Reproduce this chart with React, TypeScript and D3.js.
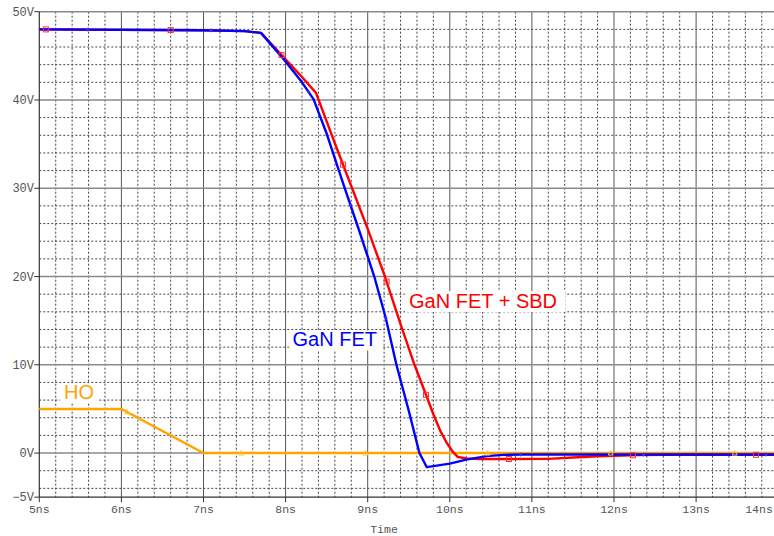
import React from 'react';
import * as d3 from 'd3';

// time in ns, voltage in V
const blueT = [5, 7.0, 7.5, 7.7, 7.96, 8.2, 8.34, 8.5, 8.72, 8.9, 9.08, 9.22, 9.35, 9.5, 9.63, 9.72, 10.0, 10.2, 10.45, 10.65, 10.9, 14.1];
const blueV = [48.0, 47.9, 47.8, 47.6, 44.8, 42.0, 40.1, 36.2, 30.0, 25.1, 20.0, 15.3, 10.0, 4.8, 0, -1.6, -1.2, -0.75, -0.35, -0.2, -0.17, -0.17];

const redT = [5, 7.0, 7.5, 7.7, 7.96, 8.2, 8.37, 8.6, 8.81, 9.0, 9.21, 9.4, 9.57, 9.71, 9.8, 9.88, 9.96, 10.04, 10.1, 10.2, 10.35, 11.2, 11.5, 11.8, 12.3, 12.6, 14.1];
const redV = [48.0, 47.9, 47.8, 47.6, 45.0, 42.6, 40.8, 35.1, 30.0, 25.4, 20.0, 14.6, 10.0, 6.6, 4.4, 2.6, 1.2, 0.1, -0.45, -0.6, -0.68, -0.66, -0.5, -0.36, -0.23, -0.2, -0.2];

const hoT = [5, 6, 7, 14.1];
const hoV = [5, 5, 0, 0];

const redMarks = [5.08, 6.6, 7.95, 8.7, 9.23, 9.71, 10.72, 12.23, 13.73];
const blueMarks = [5.59, 7.09, 8.28, 8.79, 9.22, 10.86, 12.36, 13.85];
const hoMarks = [6.07, 7.46, 8.97, 10.46, 11.96, 13.47];

const xTicks = [5, 6, 7, 8, 9, 10, 11, 12, 13, 14];
const yTicks = [-5, 0, 10, 20, 30, 40, 50];

const W = 774;
const H = 536;

const x = d3.scaleLinear().domain([5, 14]).range([39.3, 778.2]);
const y = d3.scaleLinear().domain([-5, 50]).range([497.2, 11.7]);

const toPts = (ts: number[], vs: number[]) => ts.map((t, i) => [t, vs[i]] as [number, number]);
const valueAt = (ts: number[], vs: number[], t: number) => {
  const i = Math.max(1, d3.bisectRight(ts, t));
  const t0 = ts[i - 1], t1 = ts[i];
  return vs[i - 1] + ((t - t0) / (t1 - t0)) * (vs[i] - vs[i - 1]);
};

const line = d3.line<[number, number]>().x(d => x(d[0])).y(d => y(d[1]));

const monoFont = '"Courier New", "Liberation Mono", monospace';
const labelFont = '"Liberation Sans", Arial, sans-serif';

export default function App() {
  const minorX = d3.range(5.2, 14.3, 0.2).filter(t => Math.abs(t - Math.round(t)) > 0.05);
  const minorY = d3.range(-4, 50, 2).filter(v => v % 10 !== 0);
  const majorY = [0, 10, 20, 30, 40, 50];
  const majorX = [6, 7, 8, 9, 10, 11, 12, 13, 14];
  const top = y(50), bottom = y(-5), left = x(5);

  return (
    <svg width={W} height={H} style={{ position: 'absolute', left: 0, top: 0, background: '#fff' }}>
      <rect width={W} height={H} fill="#fff" />
      {/* minor dotted grid */}
      {minorX.map(t => (
        <line key={'mx' + t} x1={x(t)} x2={x(t)} y1={top} y2={bottom} stroke="#444" strokeWidth={1} strokeDasharray="2,2" />
      ))}
      {minorY.map(v => (
        <line key={'my' + v} x1={left} x2={W} y1={y(v)} y2={y(v)} stroke="#444" strokeWidth={1} strokeDasharray="2,2" />
      ))}
      {/* major grid */}
      {majorX.map(t => (
        <line key={'Mx' + t} x1={x(t)} x2={x(t)} y1={top} y2={bottom} stroke="#555" strokeWidth={1} />
      ))}
      {majorY.map(v => (
        <line key={'My' + v} x1={left} x2={W} y1={y(v)} y2={y(v)} stroke="#8a8a8a" strokeWidth={1.6} />
      ))}
      {/* axes */}
      <line x1={left} x2={left} y1={top} y2={bottom} stroke="#333" strokeWidth={1.2} />
      <line x1={left} x2={W} y1={bottom} y2={bottom} stroke="#333" strokeWidth={1.2} />
      {yTicks.map(v => (
        <g key={'yt' + v}>
          <line x1={left - 5} x2={left} y1={y(v)} y2={y(v)} stroke="#333" />
          <text x={34} y={y(v)} dy="0.35em" textAnchor="end" fontFamily={monoFont} fontSize={12} fill="#555">
            {v < 0 ? '\u2212' + Math.abs(v) + 'V' : v + 'V'}
          </text>
        </g>
      ))}
      {xTicks.map(t => (
        <g key={'xt' + t}>
          <line x1={x(t)} x2={x(t)} y1={bottom} y2={bottom + 5} stroke="#333" />
          <text x={Math.min(x(t), W - 15)} y={513} textAnchor="middle" fontFamily={monoFont} fontSize={11.5} fill="#555">
            {t + 'ns'}
          </text>
        </g>
      ))}
      <text x={384} y={533} textAnchor="middle" fontFamily={monoFont} fontSize={11.5} fill="#555">Time</text>

      {/* traces */}
      <path d={line(toPts(hoT, hoV)) || ''} fill="none" stroke="#ffa500" strokeWidth={2.4} />
      <path d={line(toPts(redT, redV)) || ''} fill="none" stroke="#ff0000" strokeWidth={2.4} strokeLinejoin="round" />
      <path d={line(toPts(blueT, blueV)) || ''} fill="none" stroke="#0000ff" strokeWidth={2.4} strokeLinejoin="round" />

      {/* markers */}
      {hoMarks.map(t => {
        const cx = x(t), cy = y(valueAt(hoT, hoV, t));
        return <path key={'hm' + t} d={`M${cx - 2.5},${cy + 2}L${cx},${cy - 2.5}L${cx + 2.5},${cy + 2}Z`} fill="none" stroke="#ffc040" strokeWidth={1} />;
      })}
      {redMarks.map(t => (
        <rect key={'rm' + t} x={x(t) - 2.5} y={y(valueAt(redT, redV, t)) - 2.5} width={5} height={5} fill="none" stroke="#ff3030" strokeWidth={1} />
      ))}
      {blueMarks.map(t => {
        const cx = x(t), cy = y(valueAt(blueT, blueV, t));
        return <path key={'bm' + t} d={`M${cx},${cy - 2.2}L${cx + 1.8},${cy}L${cx},${cy + 2.2}L${cx - 1.8},${cy}Z`} fill="#3030ff" stroke="none" />;
      })}

      {/* labels */}
      <rect x={405} y={291} width={160} height={21} fill="#fff" />
      <text x={409} y={308} fontFamily={labelFont} fontSize={20} fill="#ff0000">GaN FET + SBD</text>
      <rect x={289} y={330.5} width={93} height={20} fill="#fff" />
      <text x={292.5} y={346} fontFamily={labelFont} fontSize={20} fill="#0000ff">GaN FET</text>
      <rect x={60} y={383.5} width={38} height={19} fill="#fff" />
      <text x={64} y={399} fontFamily={labelFont} fontSize={20} fill="#ffa500">HO</text>
    </svg>
  );
}
